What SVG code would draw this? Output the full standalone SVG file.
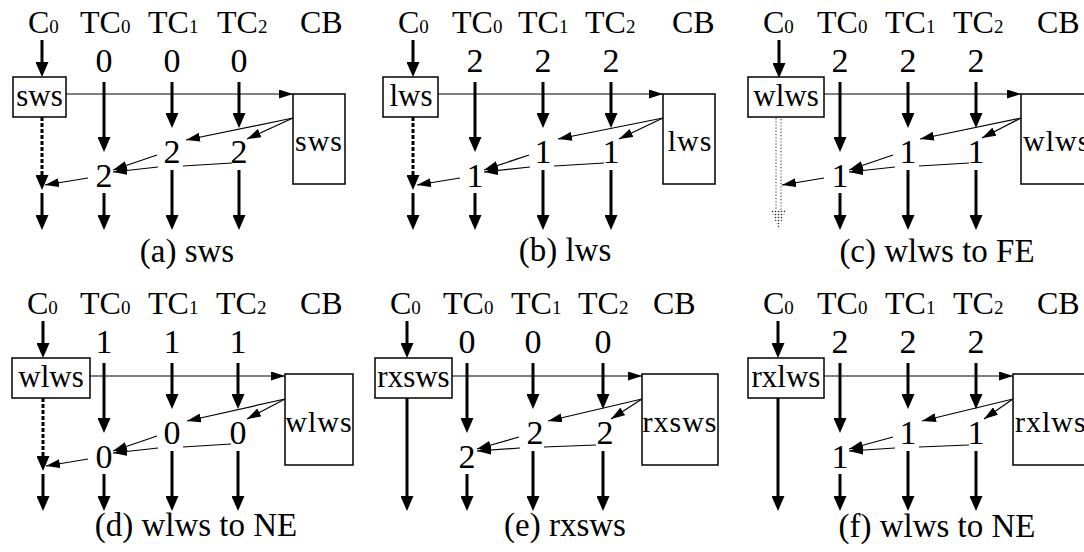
<svg xmlns="http://www.w3.org/2000/svg" width="1084" height="552" viewBox="0 0 1084 552" font-family="'Liberation Serif', 'Times New Roman', 'DejaVu Serif', serif">
<defs>
<style>
text{font-family:'Liberation Serif','Times New Roman','DejaVu Serif',serif;fill:#000}
.hd{font-size:32px}
.sub{font-size:19px}
.num{font-size:34px;text-anchor:middle}
.bx{font-size:31px;text-anchor:middle}
.cbt{font-size:30px;letter-spacing:1px}
.cap{font-size:33px;text-anchor:middle}
.box{fill:#fff;stroke:#000;stroke-width:1.5}
.thick{stroke:#000;stroke-width:3;fill:none;marker-end:url(#A)}
.dash{stroke-dasharray:4 2}
.thin{stroke:#000;stroke-width:1.2;fill:none}
.ta{marker-end:url(#a)}
.dot{stroke:#555;stroke-width:1.2;stroke-dasharray:1.2 2;fill:none}
</style>
<marker id="A" markerUnits="userSpaceOnUse" markerWidth="15" markerHeight="13" refX="7" refY="6.5" orient="auto"><path d="M0,0 L15,6.5 L0,13 z" fill="#000"/></marker>
<marker id="a" markerUnits="userSpaceOnUse" markerWidth="14" markerHeight="9" refX="14" refY="4.5" orient="auto"><path d="M0,0 L14,4.5 L0,9 z" fill="#000"/></marker>
<pattern id="dots" width="3" height="3" patternUnits="userSpaceOnUse"><circle cx="1.5" cy="1.5" r="0.8" fill="#222"/></pattern>
</defs>
<rect width="1084" height="552" fill="#fff"/>

<!-- Panel (a) -->
<g id="panel-a">
<g id="a-connectors">
<line class="thick" x1="42" y1="40" x2="42" y2="69"/>
<line class="thin ta" x1="66" y1="94" x2="293" y2="94"/>
<line class="thick" x1="104" y1="82" x2="104" y2="144"/>
<line class="thick" x1="172" y1="82" x2="172" y2="120"/>
<line class="thick" x1="239" y1="82" x2="239" y2="120"/>
<line class="thick" x1="104" y1="193" x2="104" y2="222"/>
<line class="thick" x1="172" y1="170" x2="172" y2="222"/>
<line class="thick" x1="239" y1="170" x2="239" y2="222"/>
<line class="thick dash" x1="42" y1="117" x2="42" y2="182"/>
<line class="thick" x1="42" y1="193" x2="42" y2="222"/>
<line class="thin ta" x1="293" y1="118" x2="186" y2="140"/>
<line class="thin ta" x1="293" y1="118" x2="247" y2="139"/>
<line class="thin ta" x1="157" y1="155" x2="113" y2="170"/>
<line class="thin" x1="232" y1="163" x2="183" y2="166"/>
<line class="thin ta" x1="158" y1="167" x2="113" y2="172"/>
<line class="thin ta" x1="88" y1="178" x2="45" y2="185"/>
</g>
<g id="a-C0"><text class="hd" x="28" y="33">C<tspan class="sub">0</tspan></text></g>
<g id="a-TC0"><text class="hd" x="80" y="33">TC<tspan class="sub">0</tspan></text><text class="num" x="104" y="72">0</text></g>
<g id="a-TC1"><text class="hd" x="148" y="33">TC<tspan class="sub">1</tspan></text><text class="num" x="172" y="72">0</text></g>
<g id="a-TC2"><text class="hd" x="217" y="33">TC<tspan class="sub">2</tspan></text><text class="num" x="239" y="72">0</text></g>
<g id="a-CB"><text class="hd" x="300" y="33">CB</text><rect class="box" x="293" y="94" width="52" height="90"/><text class="cbt" x="319" y="151" text-anchor="middle">sws</text></g>
<g id="a-box"><rect class="box" x="13" y="77" width="53" height="40"/><text class="bx" x="39.5" y="106">sws</text></g>
<g id="a-n0"><text class="num" x="104" y="187">2</text></g>
<g id="a-n1"><text class="num" x="172" y="163">2</text></g>
<g id="a-n2"><text class="num" x="239" y="163">2</text></g>
<g id="a-caption"><text class="cap" x="187" y="262">(a) sws</text></g>
</g>

<!-- Panel (b) -->
<g id="panel-b">
<g id="b-connectors">
<line class="thick" x1="413" y1="40" x2="413" y2="69"/>
<line class="thin ta" x1="438" y1="94" x2="663" y2="94"/>
<line class="thick" x1="475" y1="82" x2="475" y2="144"/>
<line class="thick" x1="543" y1="82" x2="543" y2="120"/>
<line class="thick" x1="611" y1="82" x2="611" y2="120"/>
<line class="thick" x1="475" y1="193" x2="475" y2="222"/>
<line class="thick" x1="543" y1="170" x2="543" y2="222"/>
<line class="thick" x1="611" y1="170" x2="611" y2="222"/>
<line class="thick dash" x1="413" y1="117" x2="413" y2="182"/>
<line class="thick" x1="413" y1="193" x2="413" y2="222"/>
<line class="thin ta" x1="663" y1="118" x2="558" y2="139"/>
<line class="thin ta" x1="663" y1="118" x2="619" y2="139"/>
<line class="thin ta" x1="529" y1="155" x2="484" y2="170"/>
<line class="thin" x1="604" y1="163" x2="554" y2="166"/>
<line class="thin ta" x1="530" y1="167" x2="484" y2="172"/>
<line class="thin ta" x1="460" y1="178" x2="417" y2="185"/>
</g>
<g id="b-C0"><text class="hd" x="398" y="33">C<tspan class="sub">0</tspan></text></g>
<g id="b-TC0"><text class="hd" x="452" y="33">TC<tspan class="sub">0</tspan></text><text class="num" x="475" y="72">2</text></g>
<g id="b-TC1"><text class="hd" x="518" y="33">TC<tspan class="sub">1</tspan></text><text class="num" x="543" y="72">2</text></g>
<g id="b-TC2"><text class="hd" x="585" y="33">TC<tspan class="sub">2</tspan></text><text class="num" x="611" y="72">2</text></g>
<g id="b-CB"><text class="hd" x="672" y="33">CB</text><rect class="box" x="663" y="94" width="52" height="90"/><text class="cbt" x="690" y="151" text-anchor="middle">lws</text></g>
<g id="b-box"><rect class="box" x="383" y="77" width="55" height="40"/><text class="bx" x="411" y="106">lws</text></g>
<g id="b-n0"><text class="num" x="475" y="187">1</text></g>
<g id="b-n1"><text class="num" x="543" y="163">1</text></g>
<g id="b-n2"><text class="num" x="611" y="163">1</text></g>
<g id="b-caption"><text class="cap" x="565" y="261">(b) lws</text></g>
</g>

<!-- Panel (c) -->
<g id="panel-c">
<g id="c-connectors">
<line class="thick" x1="779" y1="40" x2="779" y2="70"/>
<line class="thin ta" x1="824" y1="94" x2="1021" y2="94"/>
<line class="thick" x1="840" y1="82" x2="840" y2="144"/>
<line class="thick" x1="908" y1="82" x2="908" y2="120"/>
<line class="thick" x1="976" y1="82" x2="976" y2="120"/>
<line class="thick" x1="840" y1="193" x2="840" y2="222"/>
<line class="thick" x1="908" y1="170" x2="908" y2="222"/>
<line class="thick" x1="976" y1="170" x2="976" y2="222"/>
<line class="dot" x1="776" y1="118" x2="776" y2="210"/>
<line class="dot" x1="781" y1="119" x2="781" y2="210"/>
<polygon points="771,210 786,210 778.5,229" fill="url(#dots)"/>
<line class="thin ta" x1="1021" y1="118" x2="920" y2="139"/>
<line class="thin ta" x1="1021" y1="118" x2="982" y2="138"/>
<line class="thin ta" x1="893" y1="155" x2="849" y2="170"/>
<line class="thin" x1="969" y1="163" x2="919" y2="166"/>
<line class="thin ta" x1="895" y1="167" x2="849" y2="172"/>
<line class="thin ta" x1="824" y1="178" x2="782" y2="185"/>
</g>
<g id="c-C0"><text class="hd" x="763" y="33">C<tspan class="sub">0</tspan></text></g>
<g id="c-TC0"><text class="hd" x="817" y="33">TC<tspan class="sub">0</tspan></text><text class="num" x="840" y="72">2</text></g>
<g id="c-TC1"><text class="hd" x="885" y="33">TC<tspan class="sub">1</tspan></text><text class="num" x="908" y="72">2</text></g>
<g id="c-TC2"><text class="hd" x="953" y="33">TC<tspan class="sub">2</tspan></text><text class="num" x="976" y="72">2</text></g>
<g id="c-CB"><text class="hd" x="1037" y="33">CB</text><rect class="box" x="1021" y="94" width="90" height="90"/><text class="cbt" x="1023" y="151">wlws</text></g>
<g id="c-box"><rect class="box" x="748" y="77" width="76" height="40"/><text class="bx" x="786" y="106">wlws</text></g>
<g id="c-n0"><text class="num" x="840" y="187">1</text></g>
<g id="c-n1"><text class="num" x="908" y="163">1</text></g>
<g id="c-n2"><text class="num" x="976" y="163">1</text></g>
<g id="c-caption"><text class="cap" x="937" y="262">(c) wlws to FE</text></g>
</g>

<!-- Panel (d) -->
<g id="panel-d" transform="translate(0,281)">
<g id="d-connectors">
<line class="thick" x1="43" y1="40" x2="43" y2="69"/>
<line class="thin ta" x1="90" y1="95" x2="285" y2="95"/>
<line class="thick" x1="104" y1="82" x2="104" y2="144"/>
<line class="thick" x1="172" y1="82" x2="172" y2="120"/>
<line class="thick" x1="238" y1="82" x2="238" y2="120"/>
<line class="thick" x1="104" y1="193" x2="104" y2="222"/>
<line class="thick" x1="172" y1="170" x2="172" y2="222"/>
<line class="thick" x1="238" y1="170" x2="238" y2="222"/>
<line class="thick dash" x1="43" y1="117" x2="43" y2="182"/>
<line class="thick" x1="43" y1="193" x2="43" y2="222"/>
<line class="thin ta" x1="285" y1="118" x2="187" y2="140"/>
<line class="thin ta" x1="285" y1="118" x2="247" y2="138"/>
<line class="thin ta" x1="157" y1="155" x2="113" y2="170"/>
<line class="thin" x1="231" y1="163" x2="183" y2="166"/>
<line class="thin ta" x1="158" y1="167" x2="113" y2="172"/>
<line class="thin ta" x1="88" y1="178" x2="46" y2="185"/>
</g>
<g id="d-C0"><text class="hd" x="27" y="33">C<tspan class="sub">0</tspan></text></g>
<g id="d-TC0"><text class="hd" x="80" y="33">TC<tspan class="sub">0</tspan></text><text class="num" x="104" y="72">1</text></g>
<g id="d-TC1"><text class="hd" x="148" y="33">TC<tspan class="sub">1</tspan></text><text class="num" x="172" y="72">1</text></g>
<g id="d-TC2"><text class="hd" x="216" y="33">TC<tspan class="sub">2</tspan></text><text class="num" x="238" y="72">1</text></g>
<g id="d-CB"><text class="hd" x="300" y="33">CB</text><rect class="box" x="285" y="93" width="68" height="91"/><text class="cbt" x="319" y="151" text-anchor="middle">wlws</text></g>
<g id="d-box"><rect class="box" x="12" y="77" width="78" height="40"/><text class="bx" x="51" y="106">wlws</text></g>
<g id="d-n0"><text class="num" x="104" y="187">0</text></g>
<g id="d-n1"><text class="num" x="172" y="163">0</text></g>
<g id="d-n2"><text class="num" x="238" y="163">0</text></g>
<g id="d-caption"><text class="cap" x="196" y="255">(d) wlws to NE</text></g>
</g>

<!-- Panel (e) -->
<g id="panel-e" transform="translate(0,281)">
<g id="e-connectors">
<line class="thick" x1="407" y1="40" x2="407" y2="69"/>
<line class="thin ta" x1="452" y1="95" x2="642" y2="95"/>
<line class="thick" x1="467" y1="82" x2="467" y2="144"/>
<line class="thick" x1="533" y1="82" x2="533" y2="120"/>
<line class="thick" x1="603" y1="82" x2="603" y2="120"/>
<line class="thick" x1="467" y1="193" x2="467" y2="222"/>
<line class="thick" x1="533" y1="170" x2="533" y2="222"/>
<line class="thick" x1="603" y1="170" x2="603" y2="222"/>
<line class="thick" x1="407" y1="117" x2="407" y2="222"/>
<line class="thin ta" x1="642" y1="118" x2="548" y2="140"/>
<line class="thin ta" x1="642" y1="118" x2="611" y2="138"/>
<line class="thin ta" x1="519" y1="156" x2="477" y2="168"/>
<line class="thin" x1="596" y1="164" x2="544" y2="166"/>
<line class="thin ta" x1="520" y1="167" x2="477" y2="170"/>
</g>
<g id="e-C0"><text class="hd" x="390" y="33">C<tspan class="sub">0</tspan></text></g>
<g id="e-TC0"><text class="hd" x="443" y="33">TC<tspan class="sub">0</tspan></text><text class="num" x="467" y="72">0</text></g>
<g id="e-TC1"><text class="hd" x="511" y="33">TC<tspan class="sub">1</tspan></text><text class="num" x="533" y="72">0</text></g>
<g id="e-TC2"><text class="hd" x="578" y="33">TC<tspan class="sub">2</tspan></text><text class="num" x="603" y="72">0</text></g>
<g id="e-CB"><text class="hd" x="653" y="33">CB</text><rect class="box" x="642" y="93" width="76" height="91"/><text class="cbt" x="680" y="151" text-anchor="middle">rxsws</text></g>
<g id="e-box"><rect class="box" x="375" y="77" width="77" height="40"/><text class="bx" x="413.5" y="106">rxsws</text></g>
<g id="e-n0"><text class="num" x="467" y="187">2</text></g>
<g id="e-n1"><text class="num" x="535" y="163">2</text></g>
<g id="e-n2"><text class="num" x="605" y="163">2</text></g>
<g id="e-caption"><text class="cap" x="565" y="255">(e) rxsws</text></g>
</g>

<!-- Panel (f) -->
<g id="panel-f" transform="translate(0,281)">
<g id="f-connectors">
<line class="thick" x1="778" y1="40" x2="778" y2="69"/>
<line class="thin ta" x1="824" y1="95" x2="1013" y2="95"/>
<line class="thick" x1="840" y1="82" x2="840" y2="144"/>
<line class="thick" x1="908" y1="82" x2="908" y2="120"/>
<line class="thick" x1="976" y1="82" x2="976" y2="120"/>
<line class="thick" x1="840" y1="193" x2="840" y2="222"/>
<line class="thick" x1="908" y1="170" x2="908" y2="222"/>
<line class="thick" x1="976" y1="170" x2="976" y2="222"/>
<line class="thick" x1="778" y1="117" x2="778" y2="222"/>
<line class="thin ta" x1="1013" y1="118" x2="922" y2="140"/>
<line class="thin ta" x1="1013" y1="118" x2="984" y2="138"/>
<line class="thin ta" x1="893" y1="156" x2="849" y2="168"/>
<line class="thin" x1="969" y1="164" x2="919" y2="166"/>
<line class="thin ta" x1="895" y1="167" x2="849" y2="170"/>
</g>
<g id="f-C0"><text class="hd" x="763" y="33">C<tspan class="sub">0</tspan></text></g>
<g id="f-TC0"><text class="hd" x="817" y="33">TC<tspan class="sub">0</tspan></text><text class="num" x="840" y="72">2</text></g>
<g id="f-TC1"><text class="hd" x="885" y="33">TC<tspan class="sub">1</tspan></text><text class="num" x="908" y="72">2</text></g>
<g id="f-TC2"><text class="hd" x="953" y="33">TC<tspan class="sub">2</tspan></text><text class="num" x="976" y="72">2</text></g>
<g id="f-CB"><text class="hd" x="1037" y="33">CB</text><rect class="box" x="1013" y="93" width="90" height="91"/><text class="cbt" x="1015" y="151">rxlws</text></g>
<g id="f-box"><rect class="box" x="748" y="77" width="76" height="40"/><text class="bx" x="786" y="106">rxlws</text></g>
<g id="f-n0"><text class="num" x="840" y="187">1</text></g>
<g id="f-n1"><text class="num" x="908" y="163">1</text></g>
<g id="f-n2"><text class="num" x="976" y="163">1</text></g>
<g id="f-caption"><text class="cap" x="937" y="256">(f) wlws to NE</text></g>
</g>
</svg>
